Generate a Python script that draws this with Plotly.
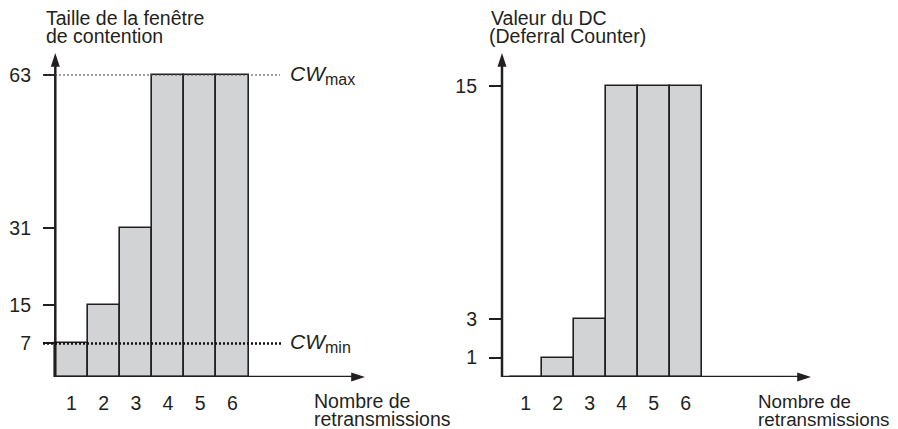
import plotly.graph_objects as go

# ---------------- data ----------------
retransmissions = [1, 2, 3, 4, 5, 6]
x_tick_labels = ["1", "2", "3", "4", "5", "6"]

cw_values = [7, 15, 31, 63, 63, 63]
cw_ticks = [7, 15, 31, 63]
CW_MIN = 7
CW_MAX = 63

dc_values = [0, 1, 3, 15, 15, 15]
dc_ticks = [1, 3, 15]

left_title = ["Taille de la fenêtre", "de contention"]
right_title = ["Valeur du DC", "(Deferral Counter)"]
x_title = ["Nombre de", "retransmissions"]
cw_max_label = "<i>CW</i><sub><span style='font-size:16px'>max</span></sub>"
cw_min_label = "<i>CW</i><sub><span style='font-size:16px'>min</span></sub>"

# ---------------- geometry (pixels of the 898x429 page) ----------------
PAGE_W, PAGE_H = 898, 429
OFF = 8                       # default body margin of the html page
W, H = PAGE_W, PAGE_H - OFF
FONT = "Liberation Sans, Arial, Helvetica, sans-serif"
INK = "#231f20"
BASE_PX = 377      # baseline of both charts
TOP_PX = 53        # tip of y arrows


def pxx(x):
    return (x - OFF) / W


def pyy(y):
    return 1 - (y - OFF) / H


# left panel
L_DOM = (43, 372)
L_X05 = 55.3          # pixel of x = 0.5
L_UNIT = 32.2
L_Y_PER = (BASE_PX - 75) / CW_MAX
L_AXIS_X = 0.5
L_ARROW_X = 0.5 + (365 - L_X05) / L_UNIT

# right panel
R_DOM = (489, 818)
R_X05 = 509.7
R_UNIT = 32.0
R_Y_PER = (BASE_PX - 86) / max(dc_values)
R_AXIS_X = 0.5 - (R_X05 - 502) / R_UNIT
R_ARROW_X = 0.5 + (811 - R_X05) / R_UNIT


def xrange(dom, x05, unit):
    return [0.5 - (x05 - dom[0]) / unit, 0.5 + (dom[1] - x05) / unit]


L_XR = xrange(L_DOM, L_X05, L_UNIT)
R_XR = xrange(R_DOM, R_X05, R_UNIT)
L_YTOP = (BASE_PX - TOP_PX) / L_Y_PER
R_YTOP = (BASE_PX - TOP_PX) / R_Y_PER

BAR_FILL = "#d1d3d4"

fig = go.Figure()
fig.add_trace(go.Bar(
    x=retransmissions, y=cw_values, width=1,
    marker=dict(color=BAR_FILL, line=dict(color=INK, width=1.6)),
    xaxis="x", yaxis="y", showlegend=False, hoverinfo="skip"))
fig.add_trace(go.Bar(
    x=retransmissions, y=dc_values, width=1,
    marker=dict(color=BAR_FILL, line=dict(color=INK, width=1.6)),
    xaxis="x2", yaxis="y2", showlegend=False, hoverinfo="skip"))

# axis lines with arrow heads
HEAD = 14.5
for xr, yr, axx, arrx, ytop, yper, unit in [
        ("x", "y", L_AXIS_X, L_ARROW_X, L_YTOP, L_Y_PER, L_UNIT),
        ("x2", "y2", R_AXIS_X, R_ARROW_X, R_YTOP, R_Y_PER, R_UNIT)]:
    fig.add_trace(go.Scatter(
        x=[axx, arrx - 6 / unit], y=[0, 0], mode="lines", xaxis=xr, yaxis=yr,
        line=dict(color=INK, width=2.5), cliponaxis=False,
        showlegend=False, hoverinfo="skip"))
    fig.add_trace(go.Scatter(
        x=[axx, axx], y=[0, ytop - 6 / yper], mode="lines", xaxis=xr, yaxis=yr,
        line=dict(color=INK, width=2.5), cliponaxis=False,
        showlegend=False, hoverinfo="skip"))
    fig.add_trace(go.Scatter(
        x=[arrx, axx], y=[0, ytop], mode="markers", xaxis=xr, yaxis=yr,
        marker=dict(symbol="arrow", size=HEAD, angle=[90, 0], color=INK,
                    line=dict(width=0)),
        cliponaxis=False, showlegend=False, hoverinfo="skip"))

common_x = dict(showgrid=False, zeroline=False, showline=False, ticks="",
                tickfont=dict(family=FONT, size=19.5, color=INK),
                ticklabelstandoff=12, fixedrange=True)
common_y = dict(showgrid=False, zeroline=False, showline=False, ticks="inside",
                ticklen=13, tickwidth=1.5, tickcolor=INK,
                tickfont=dict(family=FONT, size=19.5, color=INK),
                ticklabelstandoff=11, fixedrange=True)

ydom = [pyy(BASE_PX), pyy(TOP_PX)]

fig.update_layout(
    width=W, height=H,
    margin=dict(l=0, r=0, t=0, b=0),
    paper_bgcolor="white", plot_bgcolor="white",
    bargap=0,
    xaxis=dict(domain=[pxx(L_DOM[0]), pxx(L_DOM[1])], range=L_XR, anchor="y",
               tickvals=retransmissions, ticktext=x_tick_labels, **common_x),
    yaxis=dict(domain=ydom, range=[0, L_YTOP], anchor="x",
               tickvals=cw_ticks, ticktext=[str(v) for v in cw_ticks], **common_y),
    xaxis2=dict(domain=[pxx(R_DOM[0]), pxx(R_DOM[1])], range=R_XR, anchor="y2",
                tickvals=retransmissions, ticktext=x_tick_labels, **common_x),
    yaxis2=dict(domain=ydom, range=[0, R_YTOP], anchor="x2",
                tickvals=dc_ticks, ticktext=[str(v) for v in dc_ticks], **common_y),
)

# dotted reference lines (left panel)
fig.add_shape(type="line", xref="x", yref="y", x0=L_XR[0], x1=0.5 + (280 - L_X05) / L_UNIT,
              y0=CW_MAX, y1=CW_MAX, layer="above",
              line=dict(color="#444444", width=1, dash="2px,2px"))
fig.add_shape(type="line", xref="x", yref="y", x0=L_XR[0], x1=0.5 + (283 - L_X05) / L_UNIT,
              y0=CW_MIN, y1=CW_MIN, layer="above",
              line=dict(color="#111111", width=2.5, dash="2px,2px"))

ann = []
for yv, lab in [(CW_MAX, cw_max_label), (CW_MIN, cw_min_label)]:
    ann.append(dict(x=0.5 + (288 - L_X05) / L_UNIT, y=yv, xref="x", yref="y",
                    text=lab, showarrow=False, xanchor="left", yanchor="middle",
                    yshift=0, font=dict(family=FONT, size=21, color=INK)))


def text_line(x_px, yc_px, txt, size=19.5):
    return dict(x=pxx(x_px), y=pyy(yc_px), xref="paper", yref="paper", text=txt,
                showarrow=False, xanchor="left", yanchor="middle",
                font=dict(family=FONT, size=size, color=INK))


ann.append(text_line(44, 18, left_title[0]))
ann.append(text_line(44, 36, left_title[1]))
ann.append(text_line(489, 18, right_title[0]))
ann.append(text_line(487, 36, right_title[1]))
ann.append(text_line(312, 401, x_title[0]))
ann.append(text_line(312, 419, x_title[1]))
ann.append(text_line(756, 401, x_title[0], 18.8))
ann.append(text_line(756, 419, x_title[1], 18.8))

fig.update_layout(annotations=ann)

fig.write_html("out.html")
